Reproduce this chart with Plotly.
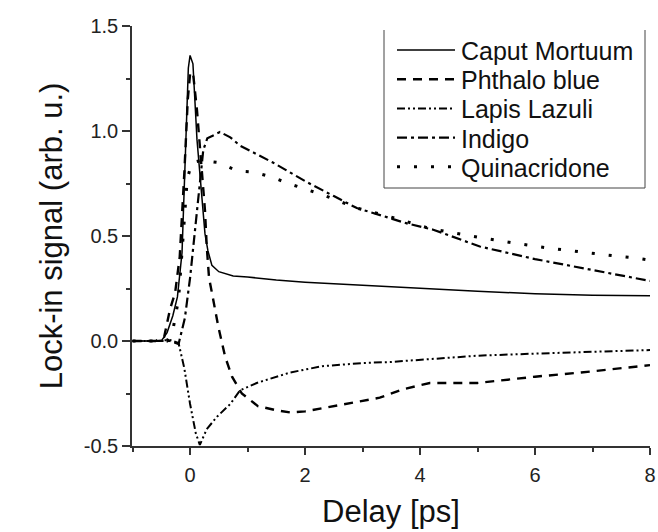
import plotly.graph_objects as go

# ---------------- data ----------------
x_cm = [-1.0, -0.8, -0.5, -0.4, -0.3, -0.22, -0.14, -0.08, -0.03, 0.0, 0.05, 0.12, 0.2, 0.26, 0.31, 0.38, 0.5, 0.75, 1.0, 1.5, 2.0, 3.0, 4.0, 5.0, 6.0, 7.0, 8.0]
y_cm = [0.0, 0.0, 0.0, 0.04, 0.12, 0.21, 0.42, 0.9, 1.3, 1.36, 1.32, 0.96, 0.72, 0.51, 0.43, 0.36, 0.33, 0.31, 0.305, 0.29, 0.28, 0.265, 0.25, 0.237, 0.225, 0.218, 0.215]

x_pb = [-1.0, -0.6, -0.45, -0.35, -0.26, -0.18, -0.1, -0.04, 0.0, 0.05, 0.12, 0.2, 0.26, 0.29, 0.33, 0.38, 0.49, 0.61, 0.73, 0.9, 1.18, 1.5, 1.74, 2.0, 2.5, 2.9, 3.3, 3.7, 4.17, 5.0, 6.0, 6.8, 7.5, 8.0]
y_pb = [0.0, 0.0, 0.02, 0.15, 0.23, 0.4, 0.8, 1.15, 1.27, 1.28, 1.1, 0.82, 0.62, 0.45, 0.3, 0.23, 0.07, -0.075, -0.17, -0.25, -0.31, -0.33, -0.34, -0.335, -0.31, -0.29, -0.27, -0.23, -0.2, -0.2, -0.17, -0.15, -0.13, -0.115]

x_ll = [-1.0, -0.6, -0.35, -0.2, -0.1, 0.0, 0.1, 0.17, 0.29, 0.47, 0.7, 0.87, 1.16, 1.5, 1.74, 2.3, 3.0, 3.48, 4.0, 5.0, 6.0, 6.8, 7.5, 8.0]
y_ll = [0.0, 0.0, 0.005, -0.01, -0.13, -0.3, -0.44, -0.495, -0.42, -0.36, -0.3, -0.235, -0.2, -0.17, -0.15, -0.12, -0.105, -0.1, -0.09, -0.07, -0.06, -0.054, -0.048, -0.043]

x_in = [-1.0, -0.6, -0.35, -0.2, -0.09, 0.0, 0.09, 0.17, 0.23, 0.3, 0.52, 0.7, 0.87, 1.44, 2.03, 2.5, 2.9, 3.42, 3.77, 4.23, 5.04, 6.0, 6.78, 7.5, 8.0]
y_in = [0.0, 0.0, 0.0, -0.015, 0.11, 0.3, 0.54, 0.78, 0.91, 0.965, 0.995, 0.97, 0.93, 0.85, 0.757, 0.69, 0.633, 0.59, 0.56, 0.53, 0.45, 0.39, 0.35, 0.315, 0.286]

x_qa = [-1.0, -0.6, -0.4, -0.3, -0.2, -0.12, -0.05, 0.03, 0.2, 0.49, 0.82, 1.1, 1.43, 1.71, 2.32, 2.9, 3.5, 4.12, 4.47, 5.0, 5.62, 6.3, 6.87, 7.4, 7.77, 8.0]
y_qa = [0.0, 0.0, 0.0, 0.05, 0.2, 0.5, 0.77, 0.85, 0.86, 0.85, 0.81, 0.805, 0.78, 0.75, 0.695, 0.633, 0.59, 0.54, 0.52, 0.495, 0.467, 0.44, 0.42, 0.405, 0.395, 0.385]

series_names = ["Caput Mortuum", "Phthalo blue", "Lapis Lazuli", "Indigo", "Quinacridone"]
series_x = [x_cm, x_pb, x_ll, x_in, x_qa]
series_y = [y_cm, y_pb, y_ll, y_in, y_qa]

x_ticks = [0, 2, 4, 6, 8]
y_ticks = [-0.5, 0.0, 0.5, 1.0, 1.5]
y_tick_labels = ["-0.5", "0.0", "0.5", "1.0", "1.5"]

# ---------------- styles ----------------
styles = [
    dict(dash="solid", width=1.5),
    dict(dash="9px,7px", width=2.4),
    dict(dash="8px,3px,2px,3px,2px,3px", width=2.0),
    dict(dash="10px,4px,3px,4px", width=2.2),
    dict(dash="3px,14px", width=3.0),
]

FONT = "Liberation Sans, Arial, sans-serif"
W, H = 658, 532
L, R, T, B = 132, 8, 26, 86
PW, PH = W - L - R, H - T - B

fig = go.Figure()
for name, xs, ys, st in zip(series_names, series_x, series_y, styles):
    fig.add_trace(go.Scatter(x=xs, y=ys, mode="lines", name=name,
                             line=dict(color="black", width=st["width"], dash=st["dash"]),
                             showlegend=False))

# custom legend (frame, keys, labels) in paper coordinates
def px2x(px):
    return (px - L) / PW

def py2y(py):
    return (H - B - py) / PH

shapes = []
annotations = []
box_l, box_r, box_t, box_b = 384, 645, 30, 188
line_col = "#444444"
shapes.append(dict(type="line", xref="paper", yref="paper", x0=px2x(box_l), x1=px2x(box_l),
                   y0=py2y(box_b), y1=py2y(box_t), line=dict(color=line_col, width=1)))
shapes.append(dict(type="line", xref="paper", yref="paper", x0=px2x(box_r), x1=px2x(box_r),
                   y0=py2y(box_b), y1=py2y(box_t), line=dict(color=line_col, width=1)))
shapes.append(dict(type="line", xref="paper", yref="paper", x0=px2x(box_l), x1=px2x(box_r),
                   y0=py2y(box_b), y1=py2y(box_b), line=dict(color=line_col, width=1)))
row0, rowstep = 50, 29.2
for i, (name, st) in enumerate(zip(series_names, styles)):
    cy = row0 + i * rowstep
    shapes.append(dict(type="line", xref="paper", yref="paper", x0=px2x(397), x1=px2x(455),
                       y0=py2y(cy), y1=py2y(cy),
                       line=dict(color="black", width=st["width"], dash=st["dash"])))
    annotations.append(dict(xref="paper", yref="paper", x=px2x(459), y=py2y(cy + 1),
                            xanchor="left", yanchor="middle", text=name, showarrow=False,
                            font=dict(family=FONT, size=25, color="#111111")))

fig.update_layout(
    template="none",
    width=W, height=H,
    margin=dict(l=L, r=R, t=T, b=B, autoexpand=False),
    paper_bgcolor="white", plot_bgcolor="white",
    font=dict(family=FONT, color="#222222"),
    shapes=shapes, annotations=annotations,
    showlegend=False,
)
fig.update_xaxes(
    automargin=False,
    range=[-1.01, 8.0], tickmode="array", tickvals=x_ticks,
    ticks="outside", ticklen=7, tickwidth=1.5, tickcolor="#333333",
    showline=True, linecolor="#333333", linewidth=1.5, mirror=False,
    showgrid=False, zeroline=False, ticklabelstandoff=3,
    tickfont=dict(family=FONT, size=20, color="#222222"),
    minor=dict(tickvals=[-1, 1, 3, 5, 7], ticks="outside", ticklen=4, tickwidth=1.5, tickcolor="#333333"),
    title=dict(text="Delay [ps]", font=dict(family=FONT, size=31, color="#111111"), standoff=16),
)
fig.update_yaxes(
    automargin=False,
    range=[-0.5, 1.5], tickmode="array", tickvals=y_ticks, ticktext=y_tick_labels,
    ticks="outside", ticklen=8, tickwidth=1.5, tickcolor="#333333",
    showline=True, linecolor="#333333", linewidth=1.5, mirror=False,
    showgrid=False, zeroline=False,
    tickfont=dict(family=FONT, size=20, color="#222222"),
    minor=dict(tickvals=[-0.25, 0.25, 0.75, 1.25], ticks="outside", ticklen=4, tickwidth=1.5, tickcolor="#333333"),
    title=dict(text="Lock-in signal (arb. u.)", font=dict(family=FONT, size=31, color="#111111"), standoff=12),
)

# remove the default page margin so the figure sits at the window's top-left corner
fig.write_html("out.html", config={"displayModeBar": False},
               post_script="document.body.style.margin='0';document.body.style.overflow='hidden';")
